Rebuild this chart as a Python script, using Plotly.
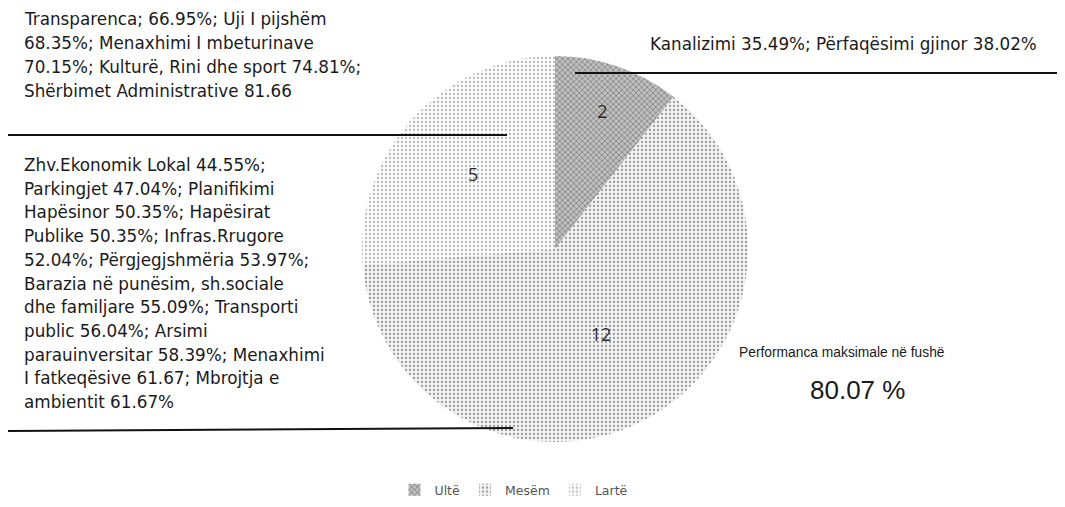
import plotly.graph_objects as go

W, H = 1065, 507
OFF = 8  # default page body margin offsets the figure

categories = ["Ultë", "Mesëm", "Lartë"]
values = [2, 12, 5]
slice_colors = ["#a8a8a8", "#ececec", "#f6f6f6"]

top_left_lines = [
    "Transparenca; 66.95%; Uji I pijshëm",
    "68.35%; Menaxhimi I mbeturinave",
    "70.15%; Kulturë, Rini dhe sport 74.81%;",
    "Shërbimet Administrative 81.66",
]
bottom_left_lines = [
    "Zhv.Ekonomik Lokal 44.55%;",
    "Parkingjet 47.04%; Planifikimi",
    "Hapësinor 50.35%; Hapësirat",
    "Publike 50.35%; Infras.Rrugore",
    "52.04%; Përgjegjshmëria 53.97%;",
    "Barazia në punësim, sh.sociale",
    "dhe familjare 55.09%; Transporti",
    "public 56.04%; Arsimi",
    "parauinversitar 58.39%; Menaxhimi",
    "I fatkeqësive 61.67; Mbrojtja e",
    "ambientit 61.67%",
]
right_text = "Kanalizimi 35.49%; Përfaqësimi gjinor 38.02%"
perf_label = "Performanca maksimale në fushë"
perf_value = "80.07 %"


def px_x(x):
    return (x - OFF) / W


def px_y(y):
    return 1 - (y - OFF) / H


fig = go.Figure(go.Pie(
    labels=categories,
    values=values,
    sort=False,
    direction="clockwise",
    rotation=0,
    marker=dict(
        colors=slice_colors,
        line=dict(color="#ffffff", width=0),
        pattern=dict(shape=["x", ".", "."], fgcolor=["#5e5e5e", "#9a9a9a", "#b8b8b8"],
                     bgcolor=["#c0c0c0", "#f3f3f3", "#fcfcfc"], size=4, solidity=0.25),
    ),
    textinfo="value",
    textposition="inside",
    insidetextfont=dict(family="Open Sans", size=18, color="#2a2a2a"),
    domain=dict(x=[px_x(362), px_x(748)], y=[px_y(443), px_y(55)]),
    hoverinfo="label+value",
))

annotations = []
font_main = dict(family="DejaVu Sans", size=16.8, color="#1a1a1a")
for i, t in enumerate(top_left_lines):
    annotations.append(dict(x=px_x(22), y=px_y(19 + i * 24), xref="paper", yref="paper",
                            text=t, showarrow=False, xanchor="left", yanchor="middle", font=font_main))
for i, t in enumerate(bottom_left_lines):
    annotations.append(dict(x=px_x(22), y=px_y(165 + i * 23.7), xref="paper", yref="paper",
                            text=t, showarrow=False, xanchor="left", yanchor="middle", font=font_main))
annotations.append(dict(x=px_x(648), y=px_y(44), xref="paper", yref="paper", text=right_text,
                        showarrow=False, xanchor="left", yanchor="middle", font=font_main))
annotations.append(dict(x=px_x(842), y=px_y(352), xref="paper", yref="paper", text=perf_label,
                        showarrow=False, xanchor="center", yanchor="middle",
                        font=dict(family="Liberation Sans", size=13.8, color="#1a1a1a")))
annotations.append(dict(x=px_x(857), y=px_y(390), xref="paper", yref="paper", text=perf_value,
                        showarrow=False, xanchor="center", yanchor="middle",
                        font=dict(family="Liberation Sans", size=26, color="#1a1a1a")))

shapes = [
    dict(type="line", xref="paper", yref="paper", x0=px_x(0), x1=px_x(507), y0=px_y(135), y1=px_y(135),
         line=dict(color="#111111", width=2)),
    dict(type="line", xref="paper", yref="paper", x0=px_x(5), x1=px_x(513), y0=px_y(431), y1=px_y(428),
         line=dict(color="#111111", width=2)),
    dict(type="line", xref="paper", yref="paper", x0=px_x(575), x1=px_x(1073), y0=px_y(73), y1=px_y(73),
         line=dict(color="#111111", width=2)),
]

fig.update_layout(
    width=W, height=H,
    margin=dict(l=0, r=0, t=0, b=0),
    paper_bgcolor="white", plot_bgcolor="white",
    showlegend=True,
    legend=dict(orientation="h", x=px_x(514), y=px_y(490), xanchor="center", yanchor="middle",
                font=dict(family="DejaVu Sans", size=12.5, color="#555555"), traceorder="normal",
                itemwidth=30),
    annotations=annotations,
    shapes=shapes,
)

fig.write_html("out.html")
